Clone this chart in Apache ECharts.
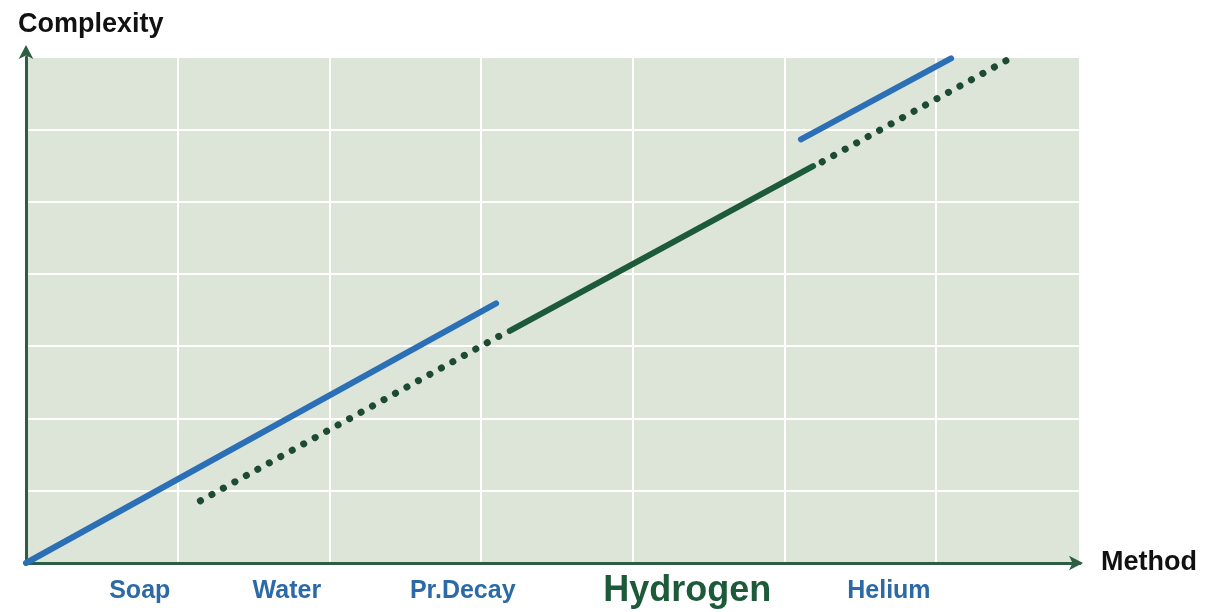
<!DOCTYPE html>
<html>
<head>
<meta charset="utf-8">
<script src="https://cdn.jsdelivr.net/npm/echarts@6/dist/echarts.min.js"></script>
<style>
html,body{margin:0;padding:0;background:#fff;}
#chart{width:1216px;height:612px;}
</style>
</head>
<body>
<div id="chart"></div>
<script>
// ---- data ----
const categories = ['Soap', 'Water', 'Pr.Decay', 'Hydrogen', 'Helium'];
const categoryPos = [0.75, 1.72, 2.88, 4.36, 5.69];   // x positions of method labels
const labelLevel = -0.39;                               // y level of method labels (below axis)
const highlighted = 'Hydrogen';
const blueLow = [[0, 0], [3.10, 3.59]];
const blueHigh = [[5.11, 5.86], [6.10, 6.98]];
const greenDotLow = [[1.15, 0.86], [3.13, 3.15]];
const greenSolid = [[3.19, 3.21], [5.19, 5.49]];
const greenDotHigh = [[5.25, 5.55], [6.48, 6.97]];
const xMax = 6.95, yMax = 7;

const BLUE = '#2b6fb6', GREEN = '#1c5a3a', DOT = '#1d4a32';
const chart = echarts.init(document.getElementById('chart'));
const font = '"Liberation Sans", Arial, sans-serif';

function solid(data, color) {
  return {type: 'line', data, showSymbol: false, symbol: 'none', silent: true,
    lineStyle: {color, width: 6, cap: 'round'}, z: 3};
}
function dotted(data, color) {
  return {type: 'line', data, showSymbol: false, symbol: 'none', silent: true,
    lineStyle: {color, width: 7, type: [0.1, 13], cap: 'round'}, z: 3};
}

chart.setOption({
  animation: false,
  backgroundColor: '#ffffff',
  title: {text: 'Complexity', left: 13, top: 6,
    textStyle: {fontFamily: font, fontSize: 27, fontWeight: 'bold', color: '#111'}},
  grid: {left: 26, top: 57, right: 136, bottom: 49, show: true,
    backgroundColor: '#dde5d8', borderWidth: 0},
  xAxis: {type: 'value', min: 0, max: xMax, interval: 1,
    name: 'Method', nameLocation: 'end', nameGap: 21,
    nameTextStyle: {fontFamily: font, fontSize: 27, fontWeight: 'bold', color: '#111', verticalAlign: 'middle'},
    axisLine: {show: true, onZero: false, symbol: ['none', 'arrow'], symbolSize: [11, 14], symbolOffset: [0, 3],
      lineStyle: {color: '#2c5e44', width: 3}},
    axisTick: {show: false}, axisLabel: {show: false},
    splitLine: {show: true, lineStyle: {color: '#ffffff', width: 2}}},
  yAxis: {type: 'value', min: 0, max: yMax, interval: 1,
    axisLine: {show: true, onZero: false, symbol: ['none', 'arrow'], symbolSize: [11, 14], symbolOffset: [0, 12],
      lineStyle: {color: '#2c5e44', width: 3}},
    axisTick: {show: false}, axisLabel: {show: false},
    splitLine: {show: true, lineStyle: {color: '#ffffff', width: 2}}},
  series: [
    solid(blueLow, BLUE),
    solid(blueHigh, BLUE),
    dotted(greenDotLow, DOT),
    solid(greenSolid, GREEN),
    dotted(greenDotHigh, DOT),
    {type: 'scatter', symbolSize: 1, clip: false, silent: true,
      itemStyle: {color: 'rgba(0,0,0,0)', opacity: 1},
      data: categories.map((c, i) => {
        const hi = c === highlighted;
        return {name: c, value: [categoryPos[i], labelLevel],
          label: hi ? {fontSize: 36, color: '#1d5a3a'} : {}};
      }),
      label: {show: true, position: 'inside', formatter: p => p.name,
        fontFamily: font, fontSize: 25, fontWeight: 'bold', color: '#2c6aa7'}}
  ]
});
</script>
</body>
</html>
